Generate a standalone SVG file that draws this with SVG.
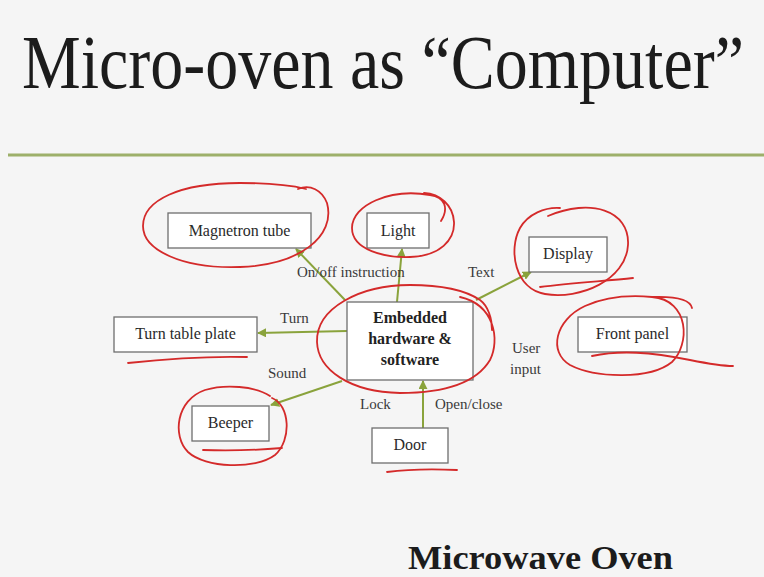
<svg xmlns="http://www.w3.org/2000/svg" width="764" height="577" viewBox="0 0 764 577">
  <defs>
    <marker id="arrow" viewBox="0 0 10 10" refX="9" refY="5" markerWidth="9" markerHeight="9" markerUnits="userSpaceOnUse" orient="auto">
      <path d="M0,0 L10,5 L0,10 z" fill="#8aa33c"/>
    </marker>
    <style>
      .box { fill: #ffffff; stroke: #6e6e6e; stroke-width: 1.3; }
      .lbl { font-family: "Liberation Serif", "Times New Roman", serif; font-size: 16px; fill: #2a2a2a; }
      .cap { font-family: "Liberation Serif", "Times New Roman", serif; font-size: 15px; fill: #3a3a3a; }
      .bold { font-family: "Liberation Serif", "Times New Roman", serif; font-size: 16px; font-weight: bold; fill: #222222; }
      .edge { stroke: #8aa33c; stroke-width: 2; fill: none; }
      .ink { stroke: #d42a2a; stroke-width: 1.8; fill: none; stroke-linecap: round; stroke-linejoin: round; }
    </style>
  </defs>

  <!-- slide background -->
  <rect x="0" y="0" width="764" height="577" fill="#f5f5f5"/>

  <!-- title, stretched a little vertically for the tall serif look -->
  <text transform="translate(22,88) scale(1,1.15)" x="0" y="0" font-family="'Liberation Serif', 'Times New Roman', serif" font-size="66" fill="#1c1c1c">Micro-oven as “Computer”</text>
  <line x1="8" y1="155" x2="764" y2="155" stroke="#9db06a" stroke-width="3"/>

  <!-- connectors -->
  <g id="connectors">
    <line class="edge" x1="345" y1="300" x2="296" y2="249" marker-end="url(#arrow)"/>
    <line class="edge" x1="397" y1="302" x2="402" y2="249" marker-end="url(#arrow)"/>
    <line class="edge" x1="476" y1="300" x2="531" y2="272" marker-end="url(#arrow)"/>
    <line class="edge" x1="347" y1="331" x2="258" y2="333" marker-end="url(#arrow)"/>
    <line class="edge" x1="342" y1="381" x2="271" y2="405" marker-end="url(#arrow)"/>
    <line class="edge" x1="423" y1="428" x2="423" y2="381" marker-end="url(#arrow)"/>
    <text class="cap" x="297" y="277">On/off instruction</text>
    <text class="cap" x="468" y="277">Text</text>
    <text class="cap" x="280" y="323">Turn</text>
    <text class="cap" x="268" y="378">Sound</text>
    <text class="cap" x="360" y="409">Lock</text>
    <text class="cap" x="435" y="409">Open/close</text>
    <text class="cap" x="512" y="353">User</text>
    <text class="cap" x="510" y="374">input</text>
  </g>

  <!-- nodes -->
  <g id="magnetron">
    <rect class="box" x="168" y="213" width="143" height="35"/>
    <text class="lbl" x="239.5" y="236" text-anchor="middle">Magnetron tube</text>
  </g>
  <g id="light">
    <rect class="box" x="367" y="213" width="62" height="35"/>
    <text class="lbl" x="398" y="236" text-anchor="middle">Light</text>
  </g>
  <g id="display">
    <rect class="box" x="529" y="237" width="78" height="35"/>
    <text class="lbl" x="568" y="259" text-anchor="middle">Display</text>
  </g>
  <g id="front-panel">
    <rect class="box" x="578" y="317" width="109" height="35"/>
    <text class="lbl" x="632.5" y="339" text-anchor="middle">Front panel</text>
  </g>
  <g id="turntable">
    <rect class="box" x="114" y="317" width="143" height="35"/>
    <text class="lbl" x="185.5" y="339" text-anchor="middle">Turn table plate</text>
  </g>
  <g id="embedded">
    <rect class="box" x="347" y="302" width="126" height="78"/>
    <text class="bold" x="410" y="323" text-anchor="middle">Embedded</text>
    <text class="bold" x="410" y="344" text-anchor="middle">hardware &amp;</text>
    <text class="bold" x="410" y="365" text-anchor="middle">software</text>
  </g>
  <g id="beeper">
    <rect class="box" x="192" y="406" width="77" height="35"/>
    <text class="lbl" x="230.5" y="428" text-anchor="middle">Beeper</text>
  </g>
  <g id="door">
    <rect class="box" x="372" y="428" width="76" height="35"/>
    <text class="lbl" x="410" y="450" text-anchor="middle">Door</text>
  </g>

  <!-- red pen annotations -->
  <g id="annotations">
    <path class="ink" d="M298,189 C310,184 322,190 327,203 C336,236 300,265 240,267 C182,269 143,250 143,226 C143,200 180,183 240,183 C266,183 290,185 306,189"/>
    <path class="ink" d="M441,221 C449,208 445,197 430,195 C390,188 352,205 352,228 C352,250 385,258 410,257 C440,256 455,240 454,222 C453,205 440,194 424,193"/>
    <path class="ink" d="M548,216 C590,198 630,210 628,245 C626,280 580,300 545,294 C515,289 508,250 520,228 C528,214 545,207 560,208"/>
    <path class="ink" d="M540,287 C570,283 605,281 633,278"/>
    <path class="ink" d="M650,297 C672,296 690,298 692,308 M652,297 C690,300 690,345 672,362 C650,380 595,378 570,365 C548,352 555,320 585,306 C605,297 630,295 652,297"/>
    <path class="ink" d="M592,356 C620,350 650,352 690,360 C705,363 720,366 733,366"/>
    <path class="ink" d="M460,297 C495,305 500,340 490,360 C475,385 440,393 400,393 C350,392 318,370 317,342 C316,308 360,285 410,285 C440,285 465,290 480,300 C488,306 492,318 492,330"/>
    <path class="ink" d="M128,363 C165,359 210,356 247,357"/>
    <path class="ink" d="M272,398 C290,405 292,440 275,455 C255,470 205,468 188,452 C172,436 176,400 205,390 C225,384 255,386 270,396"/>
    <path class="ink" d="M203,450 C230,451 258,450 282,448"/>
    <path class="ink" d="M387,472 C410,469 435,469 457,470"/>
  </g>

  <!-- caption -->
  <text x="408" y="569" font-family="'Liberation Serif', 'Times New Roman', serif" font-size="33" font-weight="bold" fill="#1c1c1c" textLength="265" lengthAdjust="spacingAndGlyphs">Microwave Oven</text>
</svg>
